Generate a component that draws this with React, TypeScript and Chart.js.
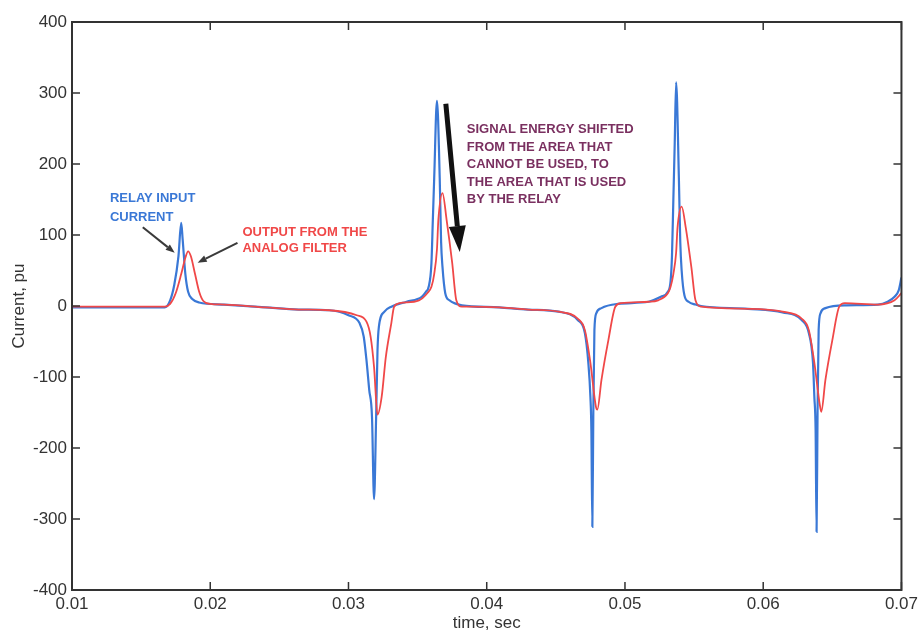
import React, { useEffect, useRef } from "react";
import { Chart, registerables } from "chart.js";
Chart.register(...registerables);

// ---- data (time in seconds, current in pu) ----
const blueTime = [
  0.0100, 0.0150, 0.0167, 0.0171, 0.0174, 0.0177, 0.0179, 0.0180, 0.0182, 0.0184,
  0.0187, 0.0192, 0.0210, 0.0240, 0.0264, 0.0286, 0.0300, 0.0308, 0.0311, 0.0313,
  0.0315, 0.0317, 0.03185, 0.0320, 0.0321, 0.0322, 0.0326, 0.0331, 0.0342, 0.0353,
  0.0356, 0.0358, 0.0360, 0.0361, 0.0362, 0.0364, 0.0366, 0.0367, 0.0368, 0.0370,
  0.0373, 0.0378, 0.0382, 0.0409, 0.0430, 0.0452, 0.0466, 0.0471, 0.04735, 0.0475,
  0.04757, 0.04764, 0.04771, 0.04779, 0.04793, 0.0483, 0.0495, 0.0517, 0.0526, 0.0531,
  0.0533, 0.0534, 0.0535, 0.0536, 0.0537, 0.0539, 0.0540, 0.0541, 0.0543, 0.0546,
  0.0551, 0.0555, 0.0589, 0.0614, 0.0628, 0.0633, 0.0636, 0.0637, 0.06379, 0.06386,
  0.06393, 0.06401, 0.06415, 0.0645, 0.0660, 0.0683, 0.0690, 0.0695, 0.0698, 0.0700,
];
const blueCurrent = [
  -2, -2, -2, 8, 30, 70, 117, 95, 45, 20,
  10, 5, 2, -2, -5, -6, -13, -24, -43, -76,
  -118, -156, -272, -156, -62, -29, -8, -1, 6, 13,
  20, 27, 60, 120, 180, 289, 180, 90, 55, 18,
  8, 3, 1, -2, -5, -8, -20, -38, -80, -128,
  -175, -311, -151, -34, -10, -3, 3, 6, 13, 20,
  35, 70, 150, 230, 315, 180, 90, 50, 15, 6,
  2, 0, -4, -9, -20, -38, -80, -128, -175, -318,
  -151, -34, -10, -3, 1, 2, 6, 13, 22, 40,
];
const redTime = [
  0.0100, 0.0167, 0.0171, 0.0175, 0.0179, 0.0182, 0.0184, 0.0186, 0.0189, 0.0192,
  0.0195, 0.0200, 0.0210, 0.0240, 0.0264, 0.0286, 0.0306, 0.0313, 0.0316, 0.03185,
  0.0321, 0.0324, 0.0327, 0.0331, 0.0333, 0.0337, 0.0351, 0.0357, 0.0360, 0.0362,
  0.0364, 0.0365, 0.0368, 0.0371, 0.0375, 0.0378, 0.0382, 0.0387, 0.0409, 0.0430,
  0.0452, 0.0466, 0.0471, 0.0475, 0.0479, 0.0480, 0.0483, 0.0488, 0.0493, 0.0497,
  0.0517, 0.0524, 0.0531, 0.0533, 0.0535, 0.0537, 0.0538, 0.0541, 0.0544, 0.0548,
  0.0551, 0.0555, 0.0589, 0.0614, 0.0628, 0.0633, 0.0637, 0.0641, 0.0642, 0.0645,
  0.0650, 0.0655, 0.0659, 0.0683, 0.0695, 0.0700,
];
const redCurrent = [
  -1, -1, 3, 18, 45, 68, 77, 70, 45, 20,
  7, 3, 2, -2, -5, -6, -13, -22, -43, -86,
  -153, -128, -72, -24, -1, 4, 8, 18, 27, 45,
  80, 121, 159, 121, 61, 8, -1, -1, -2, -5,
  -8, -18, -34, -80, -142, -146, -104, -48, -1, 4,
  6, 8, 18, 27, 45, 75, 110, 140, 110, 55,
  8, -1, -4, -8, -18, -34, -80, -140, -149, -104,
  -48, -1, 4, 2, 8, 18,
];
const xTicks = [0.01, 0.02, 0.03, 0.04, 0.05, 0.06, 0.07];
const yTicks = [-400, -300, -200, -100, 0, 100, 200, 300, 400];

const seriesNames = ["Relay input current", "Output from the analog filter"];
const blueLabel = ["RELAY INPUT", "CURRENT"];
const redLabel = ["OUTPUT FROM THE", "ANALOG FILTER"];
const noteLabel = [
  "SIGNAL ENERGY SHIFTED",
  "FROM THE AREA THAT",
  "CANNOT BE USED, TO",
  "THE AREA THAT IS USED",
  "BY THE RELAY",
];

const BLUE = "#3a78d6";
const RED = "#f04848";
const NOTE = "#7a3060";
const AXIS = "#333333";
const FONT = "'Liberation Sans', Arial, sans-serif";

function drawArrow(ctx: CanvasRenderingContext2D, x1: number, y1: number, x2: number, y2: number, lw: number, headLen: number, headW: number, color: string) {
  const ang = Math.atan2(y2 - y1, x2 - x1);
  const bx = x2 - headLen * Math.cos(ang);
  const by = y2 - headLen * Math.sin(ang);
  ctx.save();
  ctx.strokeStyle = color;
  ctx.fillStyle = color;
  ctx.lineWidth = lw;
  ctx.lineCap = "butt";
  ctx.beginPath();
  ctx.moveTo(x1, y1);
  ctx.lineTo(bx, by);
  ctx.stroke();
  ctx.beginPath();
  ctx.moveTo(x2, y2);
  ctx.lineTo(bx + (headW / 2) * Math.sin(ang), by - (headW / 2) * Math.cos(ang));
  ctx.lineTo(bx - (headW / 2) * Math.sin(ang), by + (headW / 2) * Math.cos(ang));
  ctx.closePath();
  ctx.fill();
  ctx.restore();
}

const framePlugin = {
  id: "frameAndNotes",
  afterDatasetsDraw(chart: any) {
    const ctx: CanvasRenderingContext2D = chart.ctx;
    const { left, right, top, bottom } = chart.chartArea;
    const xs = chart.scales.x;
    const ys = chart.scales.y;
    ctx.save();
    // box
    ctx.strokeStyle = AXIS;
    ctx.lineWidth = 2;
    ctx.strokeRect(left, top, right - left, bottom - top);
    // inward ticks
    const tl = 8;
    ctx.lineWidth = 1.5;
    ctx.beginPath();
    xTicks.forEach((v) => {
      const px = xs.getPixelForValue(v);
      ctx.moveTo(px, bottom);
      ctx.lineTo(px, bottom - tl);
      ctx.moveTo(px, top);
      ctx.lineTo(px, top + tl);
    });
    yTicks.forEach((v) => {
      const py = ys.getPixelForValue(v);
      ctx.moveTo(left, py);
      ctx.lineTo(left + tl, py);
      ctx.moveTo(right, py);
      ctx.lineTo(right - tl, py);
    });
    ctx.stroke();

    const P = (t: number, v: number) => [xs.getPixelForValue(t), ys.getPixelForValue(v)];

    // annotation texts
    ctx.font = "bold 13px " + FONT;
    ctx.textBaseline = "middle";
    ctx.textAlign = "left";
    ctx.fillStyle = BLUE;
    const [bx, by] = P(0.01274, 152);
    blueLabel.forEach((s, i) => ctx.fillText(s, bx, by + i * 19));
    ctx.fillStyle = RED;
    const [rx, ry] = P(0.02233, 103);
    redLabel.forEach((s, i) => ctx.fillText(s, rx, ry + i * 16));
    ctx.fillStyle = NOTE;
    const [nx, ny] = P(0.03856, 248);
    noteLabel.forEach((s, i) => ctx.fillText(s, nx, ny + i * 17.5));

    // arrows
    const [a1x, a1y] = P(0.01512, 111);
    const [a1x2, a1y2] = P(0.01743, 75);
    drawArrow(ctx, a1x, a1y, a1x2, a1y2, 2, 9, 7, "#3a3a3a");
    const [a2x, a2y] = P(0.02197, 89);
    const [a2x2, a2y2] = P(0.01909, 61);
    drawArrow(ctx, a2x, a2y, a2x2, a2y2, 2, 9, 7, "#3a3a3a");
    const [a3x, a3y] = P(0.03704, 285);
    const [a3x2, a3y2] = P(0.03805, 76);
    drawArrow(ctx, a3x, a3y, a3x2, a3y2, 5, 26, 17, "#111111");
    ctx.restore();
  },
};

export default function App() {
  const ref = useRef<HTMLCanvasElement | null>(null);
  useEffect(() => {
    if (!ref.current) return;
    const tickFont = { family: FONT, size: 17 };
    const chart = new Chart(ref.current, {
      type: "line",
      data: {
        datasets: [
          {
            label: seriesNames[1],
            data: redTime.map((t, i) => ({ x: t, y: redCurrent[i] })),
            borderColor: RED,
            borderWidth: 1.8,
            pointRadius: 0,
            cubicInterpolationMode: "monotone",
            order: 0,
          },
          {
            label: seriesNames[0],
            data: blueTime.map((t, i) => ({ x: t, y: blueCurrent[i] })),
            borderColor: BLUE,
            borderWidth: 2.2,
            pointRadius: 0,
            cubicInterpolationMode: "monotone",
            order: 1,
          },
        ],
      },
      options: {
        animation: false,
        responsive: false,
        maintainAspectRatio: false,
        layout: { padding: { left: 0, right: 18, top: 22, bottom: 0 } },
        plugins: { legend: { display: false }, tooltip: { enabled: false } },
        scales: {
          x: {
            type: "linear",
            min: 0.01,
            max: 0.07,
            grid: { display: false, drawTicks: false },
            border: { display: false },
            afterBuildTicks: (s: any) => {
              s.ticks = xTicks.map((v) => ({ value: v }));
            },
            afterFit: (s: any) => {
              s.height = 42;
            },
            ticks: {
              color: AXIS,
              font: tickFont,
              padding: 4,
              maxRotation: 0,
              autoSkip: false,
              callback: (v: any) => Number(v).toFixed(2),
            },
            title: {
              display: true,
              text: "time, sec",
              color: AXIS,
              font: { family: FONT, size: 17, lineHeight: 1 },
              padding: { top: 0, bottom: 0 },
            },
          },
          y: {
            type: "linear",
            min: -400,
            max: 400,
            grid: { display: false, drawTicks: false },
            border: { display: false },
            afterBuildTicks: (s: any) => {
              s.ticks = yTicks.map((v) => ({ value: v }));
            },
            afterFit: (s: any) => {
              s.width = 72;
            },
            ticks: {
              color: AXIS,
              font: tickFont,
              padding: 5,
              autoSkip: false,
              callback: (v: any) => String(v),
            },
            title: {
              display: true,
              text: "Current, pu",
              color: AXIS,
              font: { family: FONT, size: 17 },
              padding: { top: 9, bottom: 0 },
            },
          },
        },
      },
      plugins: [framePlugin],
    });
    return () => chart.destroy();
  }, []);
  return (
    <div style={{ position: "fixed", left: 0, top: 0, width: 922, height: 632, background: "#fff" }}>
      <canvas ref={ref} width={922} height={632} style={{ display: "block", width: 922, height: 632 }} />
    </div>
  );
}
